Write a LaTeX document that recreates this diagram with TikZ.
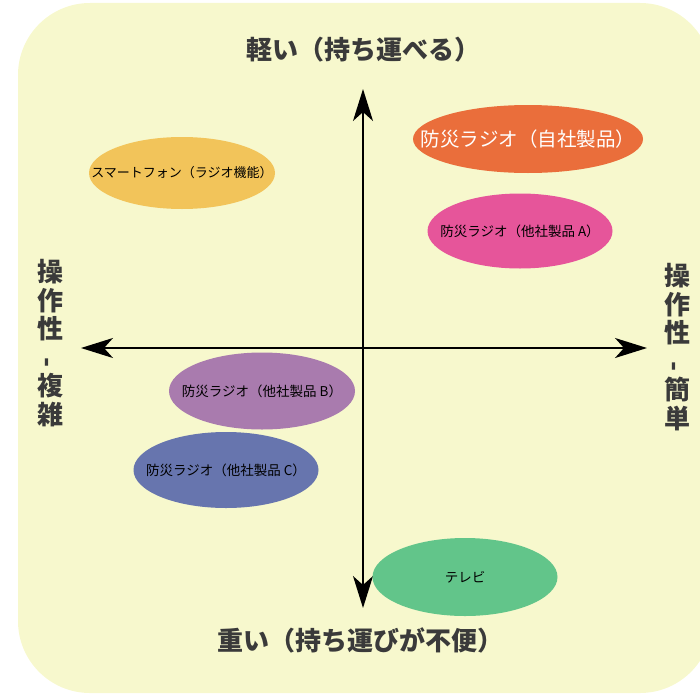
\documentclass[tikz,border=0pt]{standalone}
\usepackage{fontspec}
\setmainfont{Noto Sans CJK JP}
\usetikzlibrary{shapes.geometric,arrows.meta}
\definecolor{bgc}{HTML}{F7F8CD}
\definecolor{axtxt}{HTML}{3A3A3A}
\definecolor{corange}{HTML}{EA6E3B}
\definecolor{cpink}{HTML}{E6559A}
\definecolor{cyellow}{HTML}{F2C45A}
\definecolor{cpurple}{HTML}{A97BAE}
\definecolor{cblue}{HTML}{6775AE}
\definecolor{cgreen}{HTML}{62C58A}
\tikzset{
  blob/.style={ellipse, inner sep=0pt},
  blobtxt/.style={text=black, font=\fontsize{13.5}{14}\selectfont},
  axlabel/.style={text=axtxt, font=\fontsize{26}{28}\selectfont\bfseries},
  vlabel/.style={text=axtxt, font=\fontsize{26}{28.5}\selectfont\bfseries, align=center},
  axis/.style={line width=2pt, black, {Stealth[length=32pt,width=20pt,inset=9pt]}-{Stealth[length=32pt,width=20pt,inset=9pt]}}
}
\begin{document}
\begin{tikzpicture}[x=1pt,y=-1pt]
\useasboundingbox (0,0) rectangle (700,693);
\fill[bgc, rounded corners=72pt] (18,3) rectangle (712,693);

\coordinate (top) at (363,89);
\coordinate (bot) at (363,608);
\coordinate (lft) at (81,348);
\coordinate (rgt) at (647,348);
\draw[axis] (bot) -- (top);
\draw[axis] (lft) -- (rgt);

\node[axlabel] (tlab) at (363,50) {軽い（持ち運べる）};
\node[axlabel] (blab) at (360,640) {重い（持ち運びが不便）};
\node[vlabel] (llab) at (50,343) {操\\作\\性\\\rotatebox{90}{-}\\複\\雑};
\node[vlabel] (rlab) at (677,347) {操\\作\\性\\\rotatebox{90}{-}\\簡\\単};

\node[blob, fill=corange, minimum width=230pt, minimum height=68pt] (own) at (528,139) {};
\node[text=white, font=\fontsize{19.5}{20}\selectfont] (owntxt) at (own.center) {防災ラジオ（自社製品）};
\node[blob, fill=cpink, minimum width=185pt, minimum height=75pt] (ra) at (520,231) {};
\node[blobtxt] (ratxt) at (ra.center) {防災ラジオ（他社製品 A）};
\node[blob, fill=cyellow, minimum width=186pt, minimum height=72pt] (sp) at (182,173) {};
\node[blobtxt, font=\fontsize{13}{14}\selectfont] (sptxt) at (sp.center) {スマートフォン（ラジオ機能）};
\node[blob, fill=cpurple, minimum width=186pt, minimum height=77pt] (rb) at (262,391) {};
\node[blobtxt] (rbtxt) at (rb.center) {防災ラジオ（他社製品 B）};
\node[blob, fill=cblue, minimum width=185pt, minimum height=76pt] (rc) at (226,470) {};
\node[blobtxt] (rctxt) at (rc.center) {防災ラジオ（他社製品 C）};
\node[blob, fill=cgreen, minimum width=185pt, minimum height=78pt] (tv) at (465,577) {};
\node[blobtxt] (tvtxt) at (tv.center) {テレビ};
\end{tikzpicture}
\end{document}
